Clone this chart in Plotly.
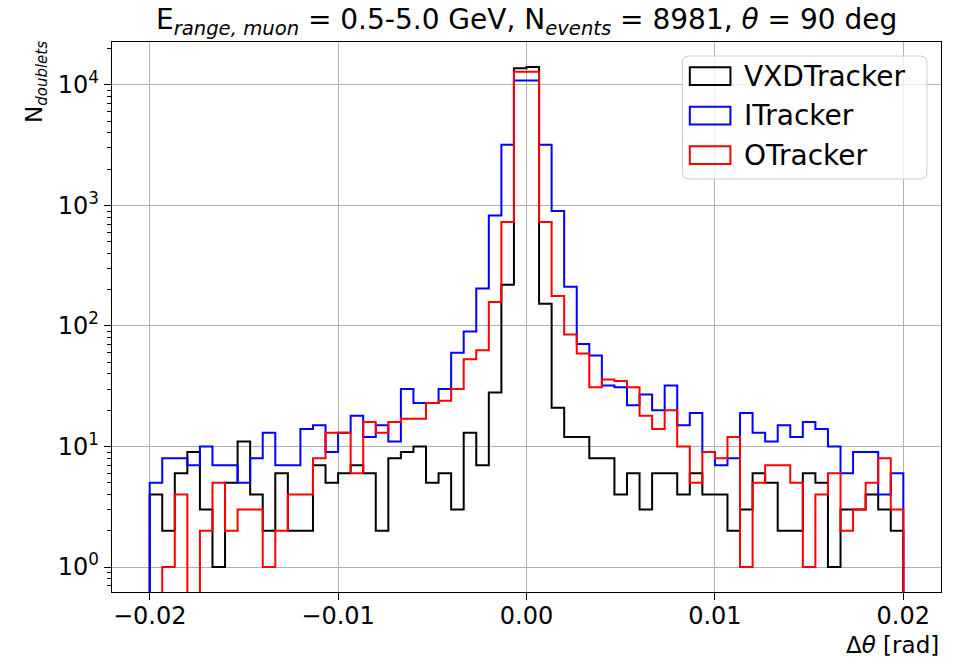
import numpy as np
import plotly.graph_objects as go

# Histogram binning: 60 equal bins over the delta-theta window [rad]
bin_lo, bin_hi, n_bins = -0.02, 0.02, 60

# Doublet counts per bin
vxd_counts = [4, 2, 6, 9, 3, 1, 5, 11, 4, 2,
              6, 2, 2, 7, 5, 6, 7, 6, 2, 8,
              9, 10, 5, 6, 3, 13, 7, 28, 220, 13800,
              14100, 153, 21, 12, 12, 8, 8, 4, 6, 3,
              6, 6, 4, 6, 4, 4, 2, 3, 6, 5,
              2, 2, 6, 5, 1, 3, 3, 4, 3, 2]
it_counts = [5, 8, 8, 7, 10, 7, 7, 5, 8, 13,
             7, 7, 14, 15, 9, 13, 18, 12, 15, 11,
             30, 23, 23, 30, 60, 90, 205, 826, 3190, 10900,
             10900, 3190, 898, 212, 71, 57, 32, 31, 22, 27,
             20, 32, 15, 19, 9, 7, 8, 19, 13, 11,
             15, 12, 16, 14, 10, 6, 9, 9, 4, 6]
ot_counts = [0, 1, 4, 0, 2, 5, 2, 3, 3, 1,
             2, 4, 4, 8, 13, 13, 6, 16, 13, 16,
             17, 17, 23, 24, 30, 53, 63, 158, 728, 12900,
             12900, 728, 177, 85, 59, 31, 36, 35, 31, 18,
             14, 20, 10, 5, 9, 8, 12, 1, 5, 7,
             7, 5, 1, 4, 6, 2, 3, 5, 8, 3]

series_names = ["VXDTracker", "ITracker", "OTracker"]
series_colors = ["#000000", "#0000ff", "#ff0000"]
series_counts = [vxd_counts, it_counts, ot_counts]

x_tickvals = [-0.02, -0.01, 0.0, 0.01, 0.02]
x_ticktext = ["\u22120.02", "\u22120.01", "0.00", "0.01", "0.02"]
y_decades = [0, 1, 2, 3, 4]

edges = np.linspace(bin_lo, bin_hi, n_bins + 1)

# axis limits with 5% padding (log space for y)
all_counts = np.concatenate([np.asarray(c, float) for c in series_counts])
pos = all_counts[all_counts > 0]
ylo, yhi = np.log10(pos.min()), np.log10(pos.max())
ypad = 0.05 * (yhi - ylo)
y_range = [ylo - ypad, yhi + ypad]
xpad = 0.05 * (bin_hi - bin_lo)
x_range = [bin_lo - xpad, bin_hi + xpad]
floor = 10 ** (y_range[0] - 1)  # empty bins drop below the visible axis

FONT = "DejaVu Sans"
TICK_SIZE = 24
LABEL_SIZE = 23
TITLE_SIZE = 28
LEGEND_SIZE = 28

fig = go.Figure()

for name, color, counts in zip(series_names, series_colors, series_counts):
    c = np.asarray(counts, float)
    c = np.where(c > 0, c, floor)
    xs = np.concatenate([[edges[0]], edges[:-1], [edges[-1]]])
    ys = np.concatenate([[floor], c, [floor]])
    fig.add_trace(go.Scatter(
        x=xs, y=ys, mode="lines", name=name,
        line=dict(color=color, width=2, shape="hv"),
        showlegend=False, hoverinfo="skip",
    ))

minor_vals = [m * 10 ** d for d in range(-1, 5) for m in range(2, 10)]

fig.update_layout(
    width=964, height=661,
    margin=dict(l=112, r=23, t=42, b=69),
    paper_bgcolor="white", plot_bgcolor="white",
    font=dict(family=FONT, size=TICK_SIZE, color="black"),
    xaxis=dict(
        range=x_range, tickvals=x_tickvals, ticktext=x_ticktext,
        showgrid=True, gridcolor="#b0b0b0", gridwidth=1,
        ticks="outside", ticklen=7, tickwidth=1.3, tickcolor="black",
        ticklabelstandoff=-5,
        showline=True, linecolor="black", linewidth=1.3, mirror=True,
        zeroline=False, tickfont=dict(family=FONT, size=TICK_SIZE),
    ),
    yaxis=dict(
        type="log", range=y_range,
        tickvals=[10 ** d for d in y_decades],
        ticktext=[f"10<sup>{d}</sup>" for d in y_decades],
        showgrid=True, gridcolor="#b0b0b0", gridwidth=1,
        ticks="outside", ticklen=7, tickwidth=1.3, tickcolor="black",
        showline=True, linecolor="black", linewidth=1.3, mirror=True,
        zeroline=False, tickfont=dict(family=FONT, size=TICK_SIZE),
        minor=dict(tickvals=minor_vals, ticks="outside", ticklen=4,
                   tickwidth=1, tickcolor="black", showgrid=False),
    ),
)

# title, axis labels
fig.add_annotation(
    text="E<sub><i>range, muon</i></sub> = 0.5-5.0 GeV, N<sub><i>events</i></sub> = 8981, <i>\u03b8</i> = 90 deg",
    xref="paper", yref="paper", x=0.5, y=1, xanchor="center", yanchor="bottom",
    yshift=0, showarrow=False, font=dict(family=FONT, size=TITLE_SIZE),
)
fig.add_annotation(
    text="\u0394<i>\u03b8</i> [rad]",
    xref="paper", yref="paper", x=1, y=0, xanchor="right", yanchor="top",
    yshift=-38, showarrow=False, font=dict(family=FONT, size=LABEL_SIZE),
)
fig.add_annotation(
    text="N<sub><span style='font-size:15px'><i>doublets</i></span></sub>",
    textangle=-90,
    xref="paper", yref="paper", x=0, y=1, xanchor="center", yanchor="top",
    xshift=-76, yshift=3, showarrow=False, font=dict(family=FONT, size=LABEL_SIZE),
)

# legend box drawn with shapes (outlined-rectangle handles)
lx0, lx1, ly0, ly1 = 0.688, 0.983, 0.751, 0.9745
r = 0.008
fig.add_shape(
    type="path", xref="paper", yref="paper",
    path=(f"M{lx0 + r},{ly1} L{lx1 - r},{ly1} Q{lx1},{ly1} {lx1},{ly1 - r * 1.5} "
          f"L{lx1},{ly0 + r * 1.5} Q{lx1},{ly0} {lx1 - r},{ly0} "
          f"L{lx0 + r},{ly0} Q{lx0},{ly0} {lx0},{ly0 + r * 1.5} "
          f"L{lx0},{ly1 - r * 1.5} Q{lx0},{ly1} {lx0 + r},{ly1} Z"),
    line=dict(color="#cccccc", width=1), fillcolor="rgba(255,255,255,0.8)",
    layer="above",
)
row_h = 0.0718
for i, (name, color) in enumerate(zip(series_names, series_colors)):
    yc = 0.938 - i * row_h
    fig.add_shape(
        type="rect", xref="paper", yref="paper",
        x0=lx0 + 0.009, x1=lx0 + 0.058, y0=yc - 0.016, y1=yc + 0.016,
        line=dict(color=color, width=2), fillcolor="rgba(0,0,0,0)", layer="above",
    )
    fig.add_annotation(
        text=name, xref="paper", yref="paper", x=lx0 + 0.072, y=yc,
        xanchor="left", yanchor="middle", showarrow=False,
        font=dict(family=FONT, size=LEGEND_SIZE),
    )

fig.write_html("out.html")
